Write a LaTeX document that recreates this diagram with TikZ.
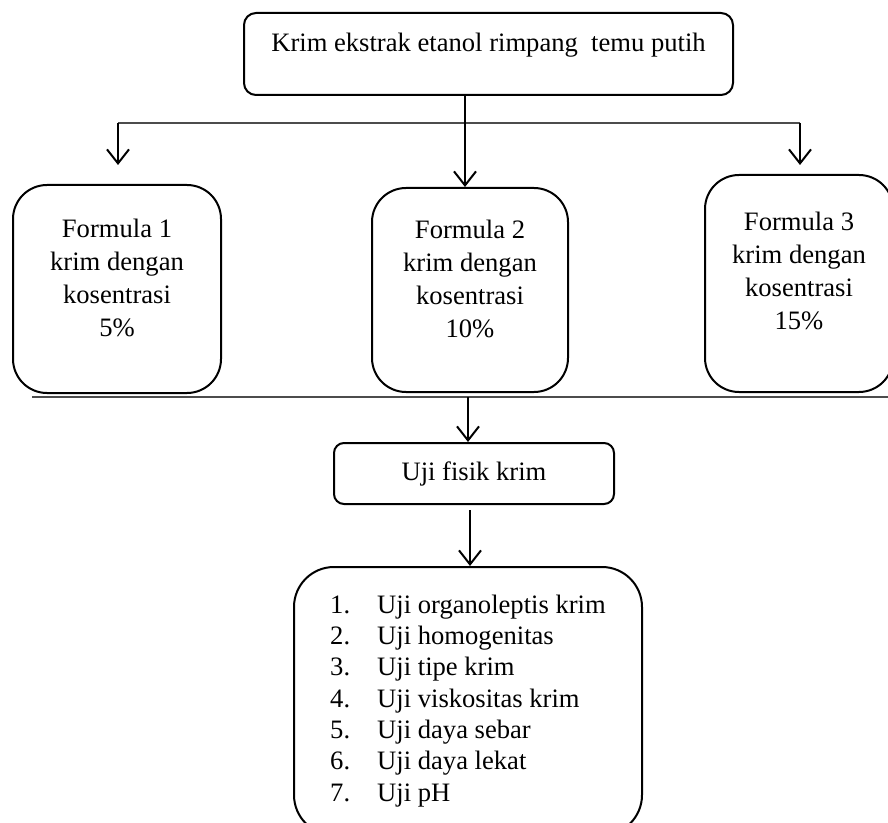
\documentclass[tikz,border=0pt]{standalone}
\usepackage{fontspec}
\setmainfont{Liberation Serif}
\usetikzlibrary{arrows.meta}
\newcommand{\myLift}[2]{\raisebox{#1}[\height][\depth]{\begin{tabular}{@{}c@{}}#2\end{tabular}}}
\newcommand{\myNum}[1]{\makebox[23.5pt][l]{#1}}
\begin{document}
\begin{tikzpicture}[x=0.5pt,y=-0.5pt,
  box/.style={draw, line width=1pt, align=center, inner sep=0pt,
    font=\fontsize{13.3}{16.5}\selectfont},
  conn/.style={line width=1pt, -{Straight Barb[length=7pt,width=11pt,line width=1pt]}},
  rulel/.style={line width=0.6pt, draw=black!70}]
\useasboundingbox (0,0) rectangle (888,823);

\node[box, rounded corners=6pt, minimum width=244.5pt, minimum height=41pt] (top) at (488.5,54)
  {\myLift{4.5pt}{Krim ekstrak etanol rimpang\ \ temu putih}};

\node[box, rounded corners=17pt, minimum width=104pt, minimum height=104pt] (f1) at (117,289)
  {\myLift{4.5pt}{Formula 1\\krim dengan\\kosentrasi\\5\%}};
\node[box, rounded corners=17pt, minimum width=98pt, minimum height=102pt] (f2) at (470,290)
  {\myLift{4.5pt}{Formula 2\\krim dengan\\kosentrasi\\10\%}};
\node[box, rounded corners=17pt, minimum width=94pt, minimum height=108.5pt] (f3) at (799,283.5)
  {\myLift{5pt}{Formula 3\\krim dengan\\kosentrasi\\15\%}};

\node[box, rounded corners=5pt, minimum width=140pt, minimum height=30.5pt] (uji) at (474,473.5)
  {Uji fisik krim};

\node[box, rounded corners=20pt, minimum width=174pt, minimum height=134pt] (list) at (468,701)
  {\renewcommand{\arraystretch}{0.95}\begin{tabular}{@{}l@{}}
   \myNum{1.}Uji organoleptis krim\\
   \myNum{2.}Uji homogenitas\\
   \myNum{3.}Uji tipe krim\\
   \myNum{4.}Uji viskositas krim\\
   \myNum{5.}Uji daya sebar\\
   \myNum{6.}Uji daya lekat\\
   \myNum{7.}Uji pH
  \end{tabular}};

% connectors
\coordinate (hl) at (118,123);
\coordinate (hr) at (800,123);
\coordinate (hm) at (465,123);
\coordinate (a1) at (118,165);
\coordinate (a3) at (800,165);
\draw[rulel] (hl) -- (hr);
\draw[conn] (hl) -- (a1);
\draw[conn] (hr) -- (a3);
\draw[conn] (top.south -| hm) -- (f2.north -| hm);

\coordinate (ll) at (32,397);
\coordinate (lr) at (888,397);
\coordinate (m2) at (468,397);
\coordinate (m3) at (470,510);
\draw[rulel] (ll) -- (lr);
\draw[conn] (m2) -- (uji.north -| m2);
\draw[conn] (m3) -- (list.north -| m3);
\end{tikzpicture}
\end{document}
